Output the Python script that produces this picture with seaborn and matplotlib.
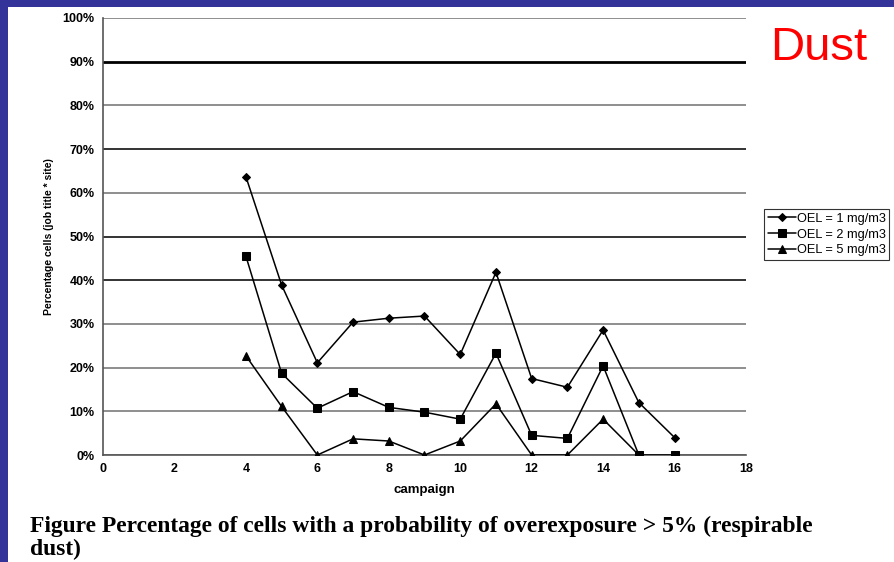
import numpy as np
import pandas as pd
import matplotlib
matplotlib.use("Agg")
import matplotlib.pyplot as plt
from matplotlib.patches import Rectangle
import seaborn as sns

# Percentage of cells with probability of overexposure > 5%, per campaign
campaigns_1 = [4, 5, 6, 7, 8, 9, 10, 11, 12, 13, 14, 15, 16]
oel_1 = [63.7, 38.9, 21.1, 30.4, 31.3, 31.8, 23.0, 41.8, 17.5, 15.5, 28.6, 12.0, 4.0]

campaigns_2 = [4, 5, 6, 7, 8, 9, 10, 11, 12, 13, 14, 15, 16]
oel_2 = [45.5, 18.7, 10.7, 14.5, 10.9, 9.8, 8.2, 23.3, 4.5, 3.8, 20.4, 0.0, 0.0]

campaigns_5 = [4, 5, 6, 7, 8, 9, 10, 11, 12, 13, 14, 15]
oel_5 = [22.7, 11.1, 0.0, 3.7, 3.2, 0.0, 3.2, 11.7, 0.0, 0.0, 8.2, 0.0]

series_names = ["OEL = 1 mg/m3", "OEL = 2 mg/m3", "OEL = 5 mg/m3"]
x_ticks = list(range(0, 19, 2))
y_ticks = list(range(0, 101, 10))

df = pd.concat([
    pd.DataFrame({"campaign": campaigns_1, "pct": oel_1, "series": series_names[0]}),
    pd.DataFrame({"campaign": campaigns_2, "pct": oel_2, "series": series_names[1]}),
    pd.DataFrame({"campaign": campaigns_5, "pct": oel_5, "series": series_names[2]}),
], ignore_index=True)

sns.set_theme(style="white")
plt.rcParams["font.family"] = ["Liberation Sans", "DejaVu Sans"]
plt.rcParams["text.color"] = "black"
plt.rcParams["axes.labelcolor"] = "black"
plt.rcParams["xtick.color"] = "black"
plt.rcParams["ytick.color"] = "black"

fig = plt.figure(figsize=(8.95, 5.62), dpi=100)
fig.patch.set_facecolor("white")

# slide frame: blue bars along the top and left edge
fig.patches.append(Rectangle((0, 1 - 7 / 562), 1, 7 / 562, transform=fig.transFigure,
                             facecolor="#333399", edgecolor="none", zorder=0))
fig.patches.append(Rectangle((0, 0), 8 / 895, 1, transform=fig.transFigure,
                             facecolor="#333399", edgecolor="none", zorder=0))

ax = fig.add_axes([103 / 895, 1 - 455 / 562, (746 - 103) / 895, (455 - 18) / 562])

markers = {series_names[0]: "D", series_names[1]: "s", series_names[2]: "^"}
palette = {name: "black" for name in series_names}
sns.lineplot(data=df, x="campaign", y="pct", hue="series", style="series",
             markers=markers, dashes=False, palette=palette, linewidth=1.1,
             markersize=5.5, markeredgecolor="black", ax=ax, zorder=3)

# shrink the diamond a little
for line in ax.get_lines():
    if line.get_marker() == "D":
        line.set_markersize(4)

ax.set_xlim(0, 18)
ax.set_ylim(0, 100)
ax.set_xticks(x_ticks)
ax.set_yticks(y_ticks)
ax.set_xticklabels([str(v) for v in x_ticks], fontsize=9, fontweight="bold")
ax.set_yticklabels([f"{v}%" for v in y_ticks], fontsize=9, fontweight="bold")

ax.yaxis.grid(True, color="#707070", linewidth=1.1)
ax.xaxis.grid(False)
ax.set_axisbelow(True)
for val, gl in zip(y_ticks, ax.yaxis.get_gridlines()):
    if val == 90:
        gl.set_color("black")
        gl.set_linewidth(2)
    elif val in (40, 50, 70):
        gl.set_color("#333333")
        gl.set_linewidth(1.4)

for side in ("top", "right"):
    ax.spines[side].set_visible(False)
for side in ("left", "bottom"):
    ax.spines[side].set_color("#555555")
    ax.spines[side].set_linewidth(1.2)
ax.tick_params(axis="both", which="major", direction="out", length=4, width=1,
               color="#555555", pad=2, labelcolor="black")

ax.set_xlabel("campaign", fontsize=9.5, fontweight="bold", labelpad=6)
ax.set_ylabel("Percentage cells (job title * site)", fontsize=7.5, fontweight="bold", labelpad=6)

handles, labels = ax.get_legend_handles_labels()
leg = ax.legend(handles, labels, loc="upper left", bbox_to_anchor=(764 / 895, 1 - 209 / 562),
                bbox_transform=fig.transFigure, frameon=True, fancybox=False,
                handlelength=2.2, handletextpad=0.05, borderpad=0.3,
                labelspacing=0.3, borderaxespad=0,
                prop={"family": ["Liberation Sans", "DejaVu Sans"], "size": 9.2})
leg.get_frame().set_edgecolor("black")
leg.get_frame().set_linewidth(0.8)

fig.text(770 / 895, 1 - 48 / 562, "Dust", color="red", fontsize=34,
         family=["Liberation Sans", "DejaVu Sans"], ha="left", va="center")

fig.text(30 / 895, 1 - 532 / 562,
         "Figure Percentage of cells with a probability of overexposure > 5% (respirable",
         fontsize=16.9, fontweight="bold", color="black",
         family=["Liberation Serif", "DejaVu Serif"], ha="left", va="baseline")
fig.text(30 / 895, 1 - 555 / 562, "dust)",
         fontsize=16.9, fontweight="bold", color="black",
         family=["Liberation Serif", "DejaVu Serif"], ha="left", va="baseline")

fig.savefig("out.png", dpi=100)
